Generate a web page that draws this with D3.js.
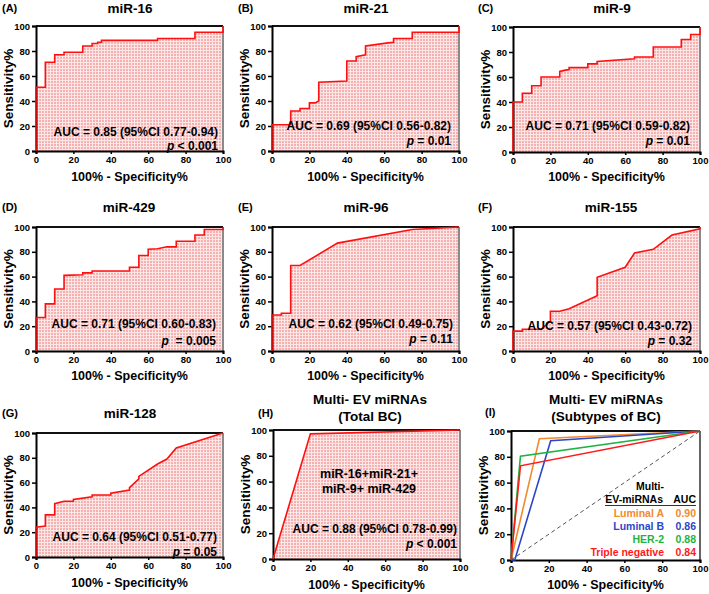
<!DOCTYPE html>
<html><head><meta charset="utf-8">
<script src="https://cdn.jsdelivr.net/npm/d3@7"></script>
<style>
html,body{margin:0;padding:0;background:#fff;}
svg{display:block;font-family:"Liberation Sans",Arial,sans-serif;font-weight:bold;}
</style></head>
<body><svg id="c" width="709" height="594"></svg>
<script>
// ---------- DATA ----------
const tickValues = [0, 20, 40, 60, 80, 100];

const miR16_fpr = [0,0,5,5,10,10,15,15,25,25,30,30,33,33,35,35,65,65,85,85,100,100];
const miR16_tpr = [0,51,51,71,71,77,77,79,79,84,84,86,86,87,87,88.5,88.5,90,90,95,95,100];

const miR21_fpr = [0,0,10,10,15,15,20,20,23,25,25,40,40,45,45,50,50,62,65,65,75,75,100,100];
const miR21_tpr = [0,21,21,32,32,34,34,38.5,38.5,40,55,56,72,72,75.5,77,84,86.5,87,90,90,95,95,100];

const miR9_fpr = [0,0,5,5,10,10,15,15,25,25,28,30,30,40,40,45,45,65,65,75,75,90,90,95,95,100,100];
const miR9_tpr = [0,40,40,47,47,53,53,60,60,64.5,65.5,66,67.5,67.5,70.5,70.5,72.5,74.5,76,76,84,84,90,90,94,94,100];

const miR429_fpr = [0,0,5,5,10,10,15,15,25,25,30,30,50,50,55,55,60,60,65,70,75,75,85,85,90,90,100,100];
const miR429_tpr = [0,27,27,38,38,50,50,61,61.5,63,63,64.5,64.5,67.5,67.5,77,77,82,82.5,84,84,88.5,88.5,93.5,93.5,98,98,100];

const miR96_fpr = [0,0,5,5,10,10,15,35,75,100];
const miR96_tpr = [0,29,29,30.5,30.5,69,69,87,98,100];

const miR155_fpr = [0,0,5,5,15,20,20,25,30,45,45,60,65,75,85,100,100];
const miR155_tpr = [0,16,16,17.5,17.5,24,32,32,34,44.5,59.5,67.5,79,82,93.5,98.5,100];

const miR128_fpr = [0,0,5,5,10,10,15,20,20,30,30,40,40,50,50,55,55,65,70,75,100];
const miR128_tpr = [0,24,25,34,34,43,45,45,46.5,48.5,50,50,51.5,54,56,63,65,75,79,88,100];

const multiTotal_fpr = [0,20,100];
const multiTotal_tpr = [0,97,100];

const subtypeNames = ["Luminal A","Luminal B","HER-2","Triple negative"];
const subtypeAUC = ["0.90","0.86","0.88","0.84"];
const subtypeColors = ["#f28a2e","#2b46c8","#1fb340","#ff1a1a"];
const lumA_fpr = [0,15,100],  lumA_tpr = [0,94,100];
const lumB_fpr = [0,2,21,100], lumB_tpr = [0,0,92.5,100];
const her2_fpr = [0,5,100],   her2_tpr = [0,80.5,100];
const tneg_fpr = [0,5,100],   tneg_tpr = [0,73,100];

const panelLabels = ["(A)","(B)","(C)","(D)","(E)","(F)","(G)","(H)","(I)"];
const panelTitles = [["miR-16"],["miR-21"],["miR-9"],["miR-429"],["miR-96"],["miR-155"],["miR-128"],
  ["Multi- EV miRNAs","(Total BC)"],["Multi- EV miRNAs","(Subtypes of BC)"]];
const aucTexts = ["AUC = 0.85 (95%CI 0.77-0.94)","AUC = 0.69 (95%CI 0.56-0.82)","AUC = 0.71 (95%CI 0.59-0.82)",
  "AUC = 0.71 (95%CI 0.60-0.83)","AUC = 0.62 (95%CI 0.49-0.75)","AUC = 0.57 (95%CI 0.43-0.72)",
  "AUC = 0.64 (95%CI 0.51-0.77)","AUC = 0.88 (95%CI 0.78-0.99)"];
const pTexts = [" < 0.001"," = 0.01"," = 0.01","  = 0.005"," = 0.11"," = 0.32"," = 0.05"," < 0.001"];
const comboText = ["miR-16+miR-21+","miR-9+ miR-429"];

// ---------- LAYOUT ----------
const layout = [
  {box:[36,26,223,151],  title:[130,13], lab:[2,12],   xl:181, auc:[218,135.5], p:[218,150]},
  {box:[272,26,459,151], title:[366,13], lab:[238,12], xl:181, auc:[451,130], p:[451,145]},
  {box:[513,27,700,152], title:[612,13], lab:[478,12], xl:181, auc:[690,130], p:[690,145]},
  {box:[36,227,223,351], title:[129,212], lab:[2,211], xl:380, auc:[216,328], p:[216,345]},
  {box:[272,227,459,351],title:[366,212], lab:[238,211], xl:380, auc:[453,328], p:[453,343]},
  {box:[513,227,700,351],title:[611,212], lab:[478,211], xl:380, auc:[692,330], p:[692,345]},
  {box:[36,433,223,557], title:[130,418], lab:[2,417], xl:587, auc:[217,541], p:[217,556]},
  {box:[273,430,460,559],title:[370,404], lab:[258,417], xl:589, auc:[457,533], p:[457,548], lh:17},
  {box:[511,431,700,560],title:[606,404], lab:[485,416], xl:589, lh:17}
];

const svg = d3.select("#c");
const defs = svg.append("defs");
const pat = defs.append("pattern").attr("id","dots").attr("patternUnits","userSpaceOnUse")
  .attr("width",3).attr("height",3);
pat.append("rect").attr("width",3).attr("height",3).attr("fill","#fde6e6");
pat.append("rect").attr("width",2).attr("height",2).attr("fill","#f7b0b0");

const curves = [
  [miR16_fpr,miR16_tpr],[miR21_fpr,miR21_tpr],[miR9_fpr,miR9_tpr],[miR429_fpr,miR429_tpr],
  [miR96_fpr,miR96_tpr],[miR155_fpr,miR155_tpr],[miR128_fpr,miR128_tpr],[multiTotal_fpr,multiTotal_tpr]
];
const subtypeCurves = [[lumA_fpr,lumA_tpr],[lumB_fpr,lumB_tpr],[her2_fpr,her2_tpr],[tneg_fpr,tneg_tpr]];

layout.forEach((L,i) => {
  const [x0,y0,x1,y1] = L.box;
  const x = d3.scaleLinear().domain([0,100]).range([x0,x1]);
  const y = d3.scaleLinear().domain([0,100]).range([y1,y0]);
  const g = svg.append("g");

  const lh = L.lh || 0;
  panelTitles[i].forEach((t,k) => {
    g.append("text").attr("x",L.title[0]).attr("y",L.title[1]+k*lh).attr("text-anchor","middle")
      .attr("font-size",13.5).text(t);
  });
  g.append("text").attr("x",L.lab[0]).attr("y",L.lab[1]).attr("font-size",11).text(panelLabels[i]);

  if (i < 8) {
    const pts = curves[i][0].map((v,k)=>[v,curves[i][1][k]]);
    g.append("path").datum(pts)
      .attr("d", d3.area().x(d=>x(d[0])).y0(y(0)).y1(d=>y(d[1])))
      .attr("fill","url(#dots)");
    g.append("line").attr("x1",x(100)).attr("x2",x(100)).attr("y1",y(0)).attr("y2",y(100))
      .attr("stroke","#8a8a8a").attr("stroke-width",2);
  } else {
    g.append("line").attr("x1",x(100)).attr("x2",x(100)).attr("y1",y(0)).attr("y2",y(100))
      .attr("stroke","#333").attr("stroke-width",1.5);
  }
  g.append("line").attr("x1",x(0)).attr("x2",x(100)).attr("y1",y(100)).attr("y2",y(100))
    .attr("stroke","#111").attr("stroke-width",2.2);

  const ax = g.append("g").attr("transform",`translate(0,${y1})`)
    .call(d3.axisBottom(x).tickValues(tickValues).tickSize(3).tickPadding(2));
  const ay = g.append("g").attr("transform",`translate(${x0},0)`)
    .call(d3.axisLeft(y).tickValues(tickValues).tickSize(4).tickPadding(2));
  [ax,ay].forEach(a=>{
    a.select(".domain").attr("stroke","#000").attr("stroke-width",2);
    a.selectAll(".tick line").attr("stroke","#000").attr("stroke-width",1.5);
    a.selectAll(".tick text").attr("font-size",9.5).attr("font-weight","bold")
      .attr("font-family",'"Liberation Sans",Arial,sans-serif').attr("fill","#000");
  });

  g.append("text").attr("x",(x0+x1)/2).attr("y",L.xl).attr("text-anchor","middle")
    .attr("font-size",12.5).text("100% - Specificity%");
  g.append("text").attr("transform",`translate(${x0-23},${(y0+y1)/2}) rotate(-90)`)
    .attr("text-anchor","middle").attr("font-size",13.5).text("Sensitivity%");

  if (i < 8) {
    const pts = curves[i][0].map((v,k)=>[v,curves[i][1][k]]);
    g.append("path").datum(pts)
      .attr("d", d3.line().x(d=>x(d[0])).y(d=>y(d[1])))
      .attr("fill","none").attr("stroke","#ff1010").attr("stroke-width",1.6);
    g.append("text").attr("x",L.auc[0]).attr("y",L.auc[1]).attr("text-anchor","end")
      .attr("font-size",12).text(aucTexts[i]);
    const pt = g.append("text").attr("x",L.p[0]).attr("y",L.p[1]).attr("text-anchor","end")
      .attr("font-size",12).attr("xml:space","preserve").style("white-space","pre");
    pt.append("tspan").attr("font-style","italic").text("p");
    pt.append("tspan").text(pTexts[i]);
    if (i === 7) {
      comboText.forEach((t,k)=>{
        g.append("text").attr("x",369).attr("y",478+k*15).attr("text-anchor","middle")
          .attr("font-size",12.5).text(t);
      });
    }
  } else {
    g.append("line").attr("x1",x(0)).attr("y1",y(0)).attr("x2",x(100)).attr("y2",y(100))
      .attr("stroke","#555").attr("stroke-width",1).attr("stroke-dasharray","4,3");
    subtypeCurves.forEach((c,k)=>{
      const pts = c[0].map((v,j)=>[v,c[1][j]]);
      g.append("path").datum(pts)
        .attr("d", d3.line().x(d=>x(d[0])).y(d=>y(d[1])))
        .attr("fill","none").attr("stroke",subtypeColors[k]).attr("stroke-width",1.6);
    });
    const lg = g.append("g").attr("font-size",10.5);
    lg.append("text").attr("x",650).attr("y",490).attr("text-anchor","middle").text("Multi-");
    lg.append("text").attr("x",663).attr("y",503).attr("text-anchor","end").text("EV-miRNAs");
    lg.append("text").attr("x",696).attr("y",503).attr("text-anchor","end").text("AUC");
    lg.append("line").attr("x1",605).attr("x2",696).attr("y1",505.5).attr("y2",505.5)
      .attr("stroke","#333").attr("stroke-width",1);
    subtypeNames.forEach((n,k)=>{
      const yy = 517 + k*13;
      lg.append("text").attr("x",664).attr("y",yy).attr("text-anchor","end")
        .attr("fill",subtypeColors[k]).text(n);
      lg.append("text").attr("x",696).attr("y",yy).attr("text-anchor","end")
        .attr("fill",subtypeColors[k]).text(subtypeAUC[k]);
    });
  }
});
</script></body></html>
